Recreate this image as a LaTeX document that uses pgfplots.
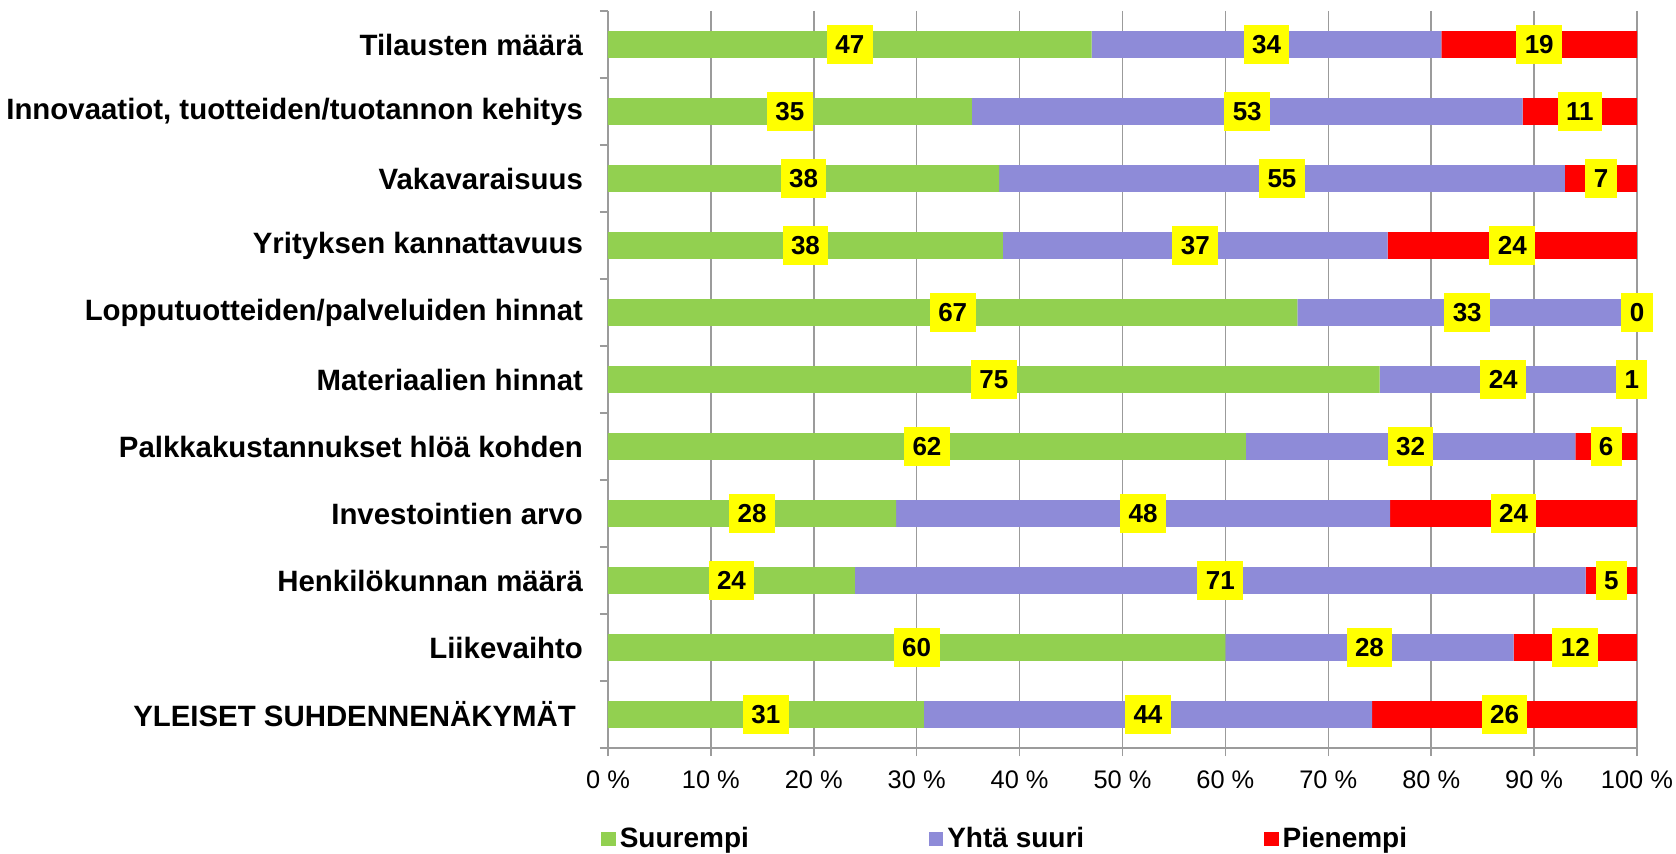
\documentclass[border=0pt]{standalone}
\usepackage{fontspec}
\setmainfont{Liberation Sans}
\usepackage{pgfplots}
\usepackage{pgfplotstable}
\pgfplotsset{compat=1.18}

\definecolor{cgreen}{RGB}{146,208,80}
\definecolor{cblue}{RGB}{142,139,216}
\definecolor{cred}{RGB}{255,0,0}
\definecolor{cyel}{RGB}{255,255,0}
\definecolor{cgrid}{RGB}{155,155,155}

% idx, Suurempi, Yhtä suuri, Pienempi (as labelled; bars are normalised to 100 %)
\pgfplotstableread{
idx g  b  r
0   47 34 19
1   35 53 11
2   38 55 7
3   38 37 24
4   67 33 0
5   75 24 1
6   62 32 6
7   28 48 24
8   24 71 5
9   60 28 12
10  31 44 26
}\datatab

\pgfplotsset{
  base/.style={
    at={(0,0)}, anchor=south west, scale only axis,
    width=514.5pt, height=368.5pt,
    xmin=0, xmax=100, ymin=-0.5, ymax=10.5, y dir=reverse,
  },
  lbl/.style={
    draw=none, mark=none,
    nodes near coords={\pgfplotspointmeta},
    point meta=explicit symbolic,
    every node near coord/.append style={
      anchor=center, fill=cyel, text=black,
      font=\bfseries\fontsize{13}{15}\selectfont,
      inner xsep=4.2pt, inner ysep=0pt, minimum height=19.5pt},
  },
}

\begin{document}
\begin{tikzpicture}
\path[use as bounding box] (-304pt,-53pt) rectangle (534pt,374pt);

\begin{axis}[
  base,
  xbar stacked, bar width=0.4,
  axis x line*=bottom, axis y line*=left,
  axis line style={cgrid, line width=0.75pt},
  xmajorgrids, grid style={cgrid, line width=0.75pt},
  tick align=outside,
  major tick length=4pt,
  tick style={cgrid, line width=0.75pt},
  xtick={0,10,...,100},
  xticklabels={0 \%,10 \%,20 \%,30 \%,40 \%,50 \%,60 \%,70 \%,80 \%,90 \%,100 \%},
  xticklabel style={font=\fontsize{12.7}{14}\selectfont, yshift=-4pt},
  ytick={-0.5,0.5,...,10.5},
  yticklabels={,,,,,,,,,,,},
  extra y ticks={0,1,...,10},
  extra y tick labels={Tilausten määrä, {Innovaatiot, tuotteiden/tuotannon kehitys}, Vakavaraisuus, Yrityksen kannattavuus, Lopputuotteiden/palveluiden hinnat, Materiaalien hinnat, Palkkakustannukset hlöä kohden, Investointien arvo, Henkilökunnan määrä, Liikevaihto, {YLEISET SUHDENNENÄKYMÄT\hspace*{3.5pt}}},
  extra y tick style={major tick length=0pt, grid=none,
    yticklabel style={font=\bfseries\fontsize{14.7}{17}\selectfont, xshift=-9pt}},
  legend columns=3,
  legend style={at={(0,0)}, anchor=west, xshift=-6.5pt, yshift=-45.5pt,
    draw=none, fill=none, font=\bfseries\fontsize{14}{16}\selectfont,
    /tikz/every even column/.append style={column sep=88pt}},
  legend image code/.code={\fill[#1] (0pt,-3.6pt) rectangle (7.2pt,3.6pt);},
]
\addplot[fill=cgreen, draw=none] table[x expr={100*\thisrow{g}/(\thisrow{g}+\thisrow{b}+\thisrow{r})}, y=idx] {\datatab};
\addlegendentry{Suurempi}
\addplot[fill=cblue, draw=none] table[x expr={100*\thisrow{b}/(\thisrow{g}+\thisrow{b}+\thisrow{r})}, y=idx] {\datatab};
\addlegendentry{Yhtä suuri}
\addplot[fill=cred, draw=none] table[x expr={100*\thisrow{r}/(\thisrow{g}+\thisrow{b}+\thisrow{r})}, y=idx] {\datatab};
\addlegendentry{Pienempi}
\end{axis}

\begin{axis}[base, hide axis, clip=false]
\addplot[lbl] table[x expr={100*(\thisrow{g}/2)/(\thisrow{g}+\thisrow{b}+\thisrow{r})}, y=idx, meta=g] {\datatab};
\addplot[lbl] table[x expr={100*(\thisrow{g}+\thisrow{b}/2)/(\thisrow{g}+\thisrow{b}+\thisrow{r})}, y=idx, meta=b] {\datatab};
\addplot[lbl] table[x expr={100*(\thisrow{g}+\thisrow{b}+\thisrow{r}/2)/(\thisrow{g}+\thisrow{b}+\thisrow{r})}, y=idx, meta=r] {\datatab};
\end{axis}
\end{tikzpicture}
\end{document}
